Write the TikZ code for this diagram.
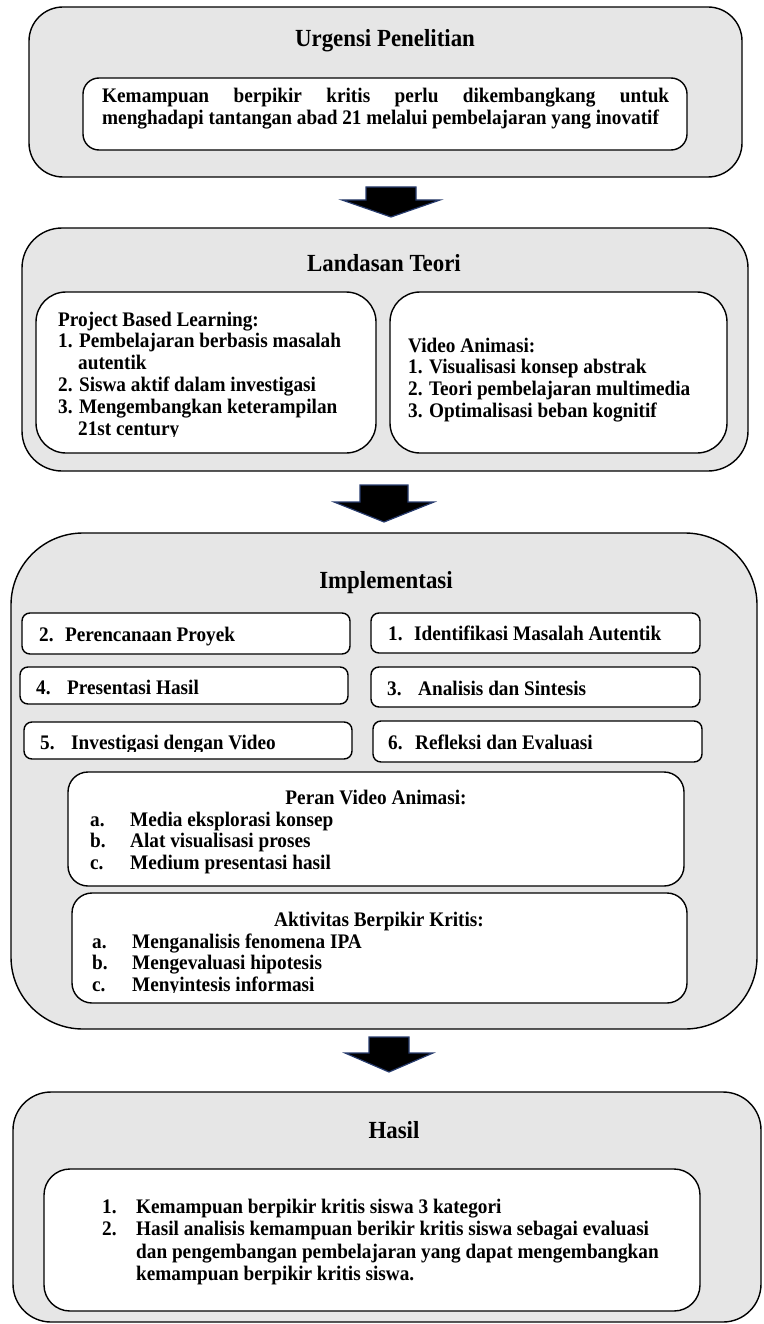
\documentclass[tikz,border=0pt]{standalone}
\usepackage{fontspec}
\setmainfont{Liberation Serif}[FakeStretch=0.93]
\definecolor{boxgray}{RGB}{230,230,230}
\definecolor{arrowedge}{RGB}{40,60,110}
\newcommand\bodyfont{\fontsize{20.7}{21.8}\selectfont\bfseries}
\newcommand\headfont{\fontsize{24.6}{26}\selectfont\bfseries}
\tikzset{
  outerbox/.style={draw=black, line width=1.4pt, fill=boxgray, rounded corners=#1, inner sep=0pt, outer sep=0pt},
  innerbox/.style={draw=black, line width=1.4pt, fill=white, rounded corners=#1, inner sep=0pt, outer sep=0pt},
  headtxt/.style={font=\headfont, anchor=base, inner sep=0pt},
  bodytxt/.style={font=\bodyfont, anchor=base west, inner sep=0pt, align=left},
  blockarrow/.style={fill=black, draw=arrowedge, line width=1.2pt, line join=miter},
}
\begin{document}
\begin{tikzpicture}[x=1pt,y=-1pt]
\useasboundingbox (0,0) rectangle (763,1324);

% ---------- Urgensi Penelitian ----------
\node[outerbox=34, minimum width=713, minimum height=170] (U) at (385.5,92) {};
\node[headtxt] (Ut) at (385,47) {Urgensi Penelitian};
\node[innerbox=16, minimum width=604, minimum height=72] (U1) at (385,114) {};
\node[bodytxt, text width=567, align=justify] (U1t) at (102,103)
  {Kemampuan berpikir kritis perlu dikembangkang untuk\linebreak menghadapi tantangan abad 21 melalui pembelajaran yang inovatif};

% arrow 1
\coordinate (ar1) at (391,187);
\draw[blockarrow] (ar1) ++(-25,0) -- ++(50,0) -- ++(0,13) -- ++(24,0) -- (391,217) -- (342,200) -- ++(24,0) -- cycle;

% ---------- Landasan Teori ----------
\node[outerbox=40, minimum width=726, minimum height=243] (L) at (385,349.5) {};
\node[headtxt] (Lt) at (384,271) {Landasan Teori};
\node[innerbox=30, minimum width=340, minimum height=161] (LA) at (206,372.5) {};
\node[innerbox=30, minimum width=337, minimum height=161] (LB) at (558.5,372.5) {};
\begin{scope}
\clip (40,295) rectangle (372,436);
% base anchor = last line baseline
\node[bodytxt] (LAt) at (58,435)
  {Project Based Learning:\\
   1. Pembelajaran berbasis masalah\\
   \hspace*{20pt}autentik\\
   2. Siswa aktif dalam investigasi\\
   3. Mengembangkan keterampilan\\
   \hspace*{20pt}21st century};
\end{scope}
\node[bodytxt] (LBt) at (408,417.4)
  {Video Animasi:\\
   1. Visualisasi konsep abstrak\\
   2. Teori pembelajaran multimedia\\
   3. Optimalisasi beban kognitif};

% arrow 2
\coordinate (ar2) at (384,485);
\draw[blockarrow] (ar2) ++(-24,0) -- ++(48,0) -- ++(0,17) -- ++(26,0) -- (384,522) -- (334,502) -- ++(26,0) -- cycle;

% ---------- Implementasi ----------
\node[outerbox=72, minimum width=746, minimum height=496] (I) at (384,781) {};
\node[headtxt] (It) at (386,588) {Implementasi};

\node[innerbox=8, minimum width=328, minimum height=41] (S2) at (186,633.5) {};
\node[bodytxt] (S2t) at (39,641) {\makebox[26pt][l]{2.}Perencanaan Proyek};
\node[innerbox=8, minimum width=329, minimum height=40] (S1) at (535.5,633) {};
\node[bodytxt] (S1t) at (388,640) {\makebox[26pt][l]{1.}Identifikasi Masalah Autentik};

\node[innerbox=8, minimum width=328, minimum height=37] (S4) at (184,685.5) {};
\node[bodytxt] (S4t) at (36,694) {\makebox[31pt][l]{4.}Presentasi Hasil};
\node[innerbox=8, minimum width=329, minimum height=40] (S3) at (535.5,687) {};
\node[bodytxt] (S3t) at (387,695) {\makebox[31pt][l]{3.}Analisis dan Sintesis};

\node[innerbox=8, minimum width=328, minimum height=37] (S5) at (188,740.5) {};
\begin{scope}
\clip (26,724) rectangle (350,751);
\node[bodytxt] (S5t) at (40,749) {\makebox[31pt][l]{5.}Investigasi dengan Video};
\end{scope}
\node[innerbox=8, minimum width=329, minimum height=41] (S6) at (537.5,741.5) {};
\node[bodytxt] (S6t) at (388,749) {\makebox[27pt][l]{6.}Refleksi dan Evaluasi};

\node[innerbox=20, minimum width=616, minimum height=114] (P) at (376,829) {};
\node[headtxt, font=\bodyfont] (Pt) at (376,804) {Peran Video Animasi:};
\node[bodytxt] (Pl) at (90,869.6)
  {\makebox[40pt][l]{a.}Media eksplorasi konsep\\
   \makebox[40pt][l]{b.}Alat visualisasi proses\\
   \makebox[40pt][l]{c.}Medium presentasi hasil};

\node[innerbox=20, minimum width=615, minimum height=110] (A) at (379.5,948) {};
\node[headtxt, font=\bodyfont] (At) at (379,926) {Aktivitas Berpikir Kritis:};
\begin{scope}
\clip (76,930) rectangle (680,992);
\node[bodytxt] (Al) at (92,991.6)
  {\makebox[40pt][l]{a.}Menganalisis fenomena IPA\\
   \makebox[40pt][l]{b.}Mengevaluasi hipotesis\\
   \makebox[40pt][l]{c.}Menyintesis informasi};
\end{scope}

% arrow 3
\coordinate (ar3) at (389,1037);
\draw[blockarrow] (ar3) ++(-20,0) -- ++(40,0) -- ++(0,16) -- ++(24,0) -- (389,1072) -- (345,1053) -- ++(24,0) -- cycle;

% ---------- Hasil ----------
\node[outerbox=38, minimum width=748, minimum height=230] (H) at (387,1207) {};
\node[headtxt] (Ht) at (394,1138) {Hasil};
\node[innerbox=26, minimum width=656, minimum height=142] (HI) at (372,1240) {};
\node[bodytxt, font=\fontsize{20.7}{22.5}\selectfont\bfseries] (HIt) at (102,1280.5)
  {\makebox[34pt][l]{1.}Kemampuan berpikir kritis siswa 3 kategori\\
   \makebox[34pt][l]{2.}Hasil analisis kemampuan berikir kritis siswa sebagai evaluasi\\
   \hspace*{34pt}dan pengembangan pembelajaran yang dapat mengembangkan\\
   \hspace*{34pt}kemampuan berpikir kritis siswa.};
\end{tikzpicture}
\end{document}
